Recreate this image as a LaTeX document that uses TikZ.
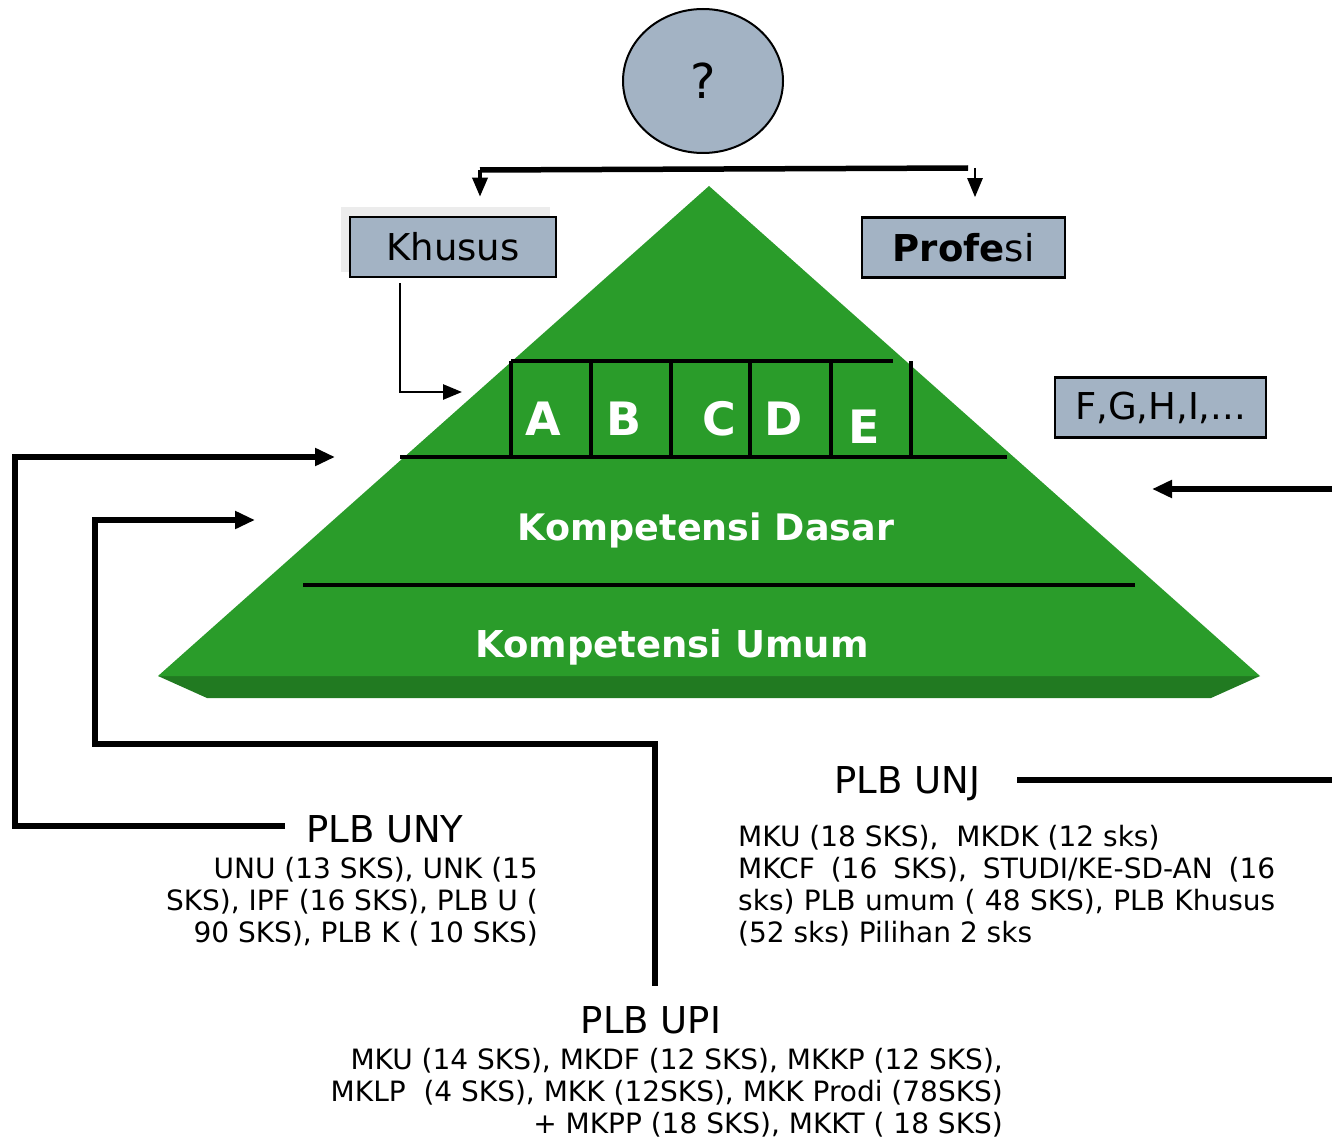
\documentclass[tikz,border=0pt]{standalone}
\usepackage{fontspec}
\setmainfont{DejaVu Sans}
\usepackage{tikz}
\usetikzlibrary{arrows.meta,calc,positioning,shapes.geometric}
\definecolor{BoxGrey}{HTML}{A3B3C4}
\definecolor{ShadowGrey}{HTML}{ECECEC}
\definecolor{PyrGreen}{HTML}{2A9C2A}
\definecolor{PyrDark}{HTML}{217A21}
\tikzset{
  labelbox/.style={
    draw=black,
    line width=2.6pt,
    fill=BoxGrey,
    minimum height=60pt,
    inner sep=0pt,
    font=\fontsize{37}{44}\selectfont
  },
  thickline/.style={line width=5.5pt},
  bigarrow/.style={thickline, -{Triangle[length=20pt,width=17pt]}},
  smallarrow/.style={line width=2.6pt, -{Triangle[length=19pt,width=15pt]}},
  gridline/.style={line width=3.2pt},
  cell/.style={text=white, inner sep=0pt, font=\fontsize{46}{50}\selectfont\bfseries},
  tier/.style={text=white, inner sep=0pt, font=\fontsize{36.5}{40}\selectfont\bfseries},
  schoolhead/.style={inner sep=0pt, font=\fontsize{37}{44}\selectfont},
  schooltext/.style={inner sep=0pt, font=\fontsize{28}{32}\selectfont}
}

\begin{document}
\begin{tikzpicture}[x=1pt,y=-1pt]
  \useasboundingbox (0,0) rectangle (1332,1142);

  % pyramid
  \coordinate (apex) at (709,186);
  \coordinate (baseL) at (158,676);
  \coordinate (baseR) at (1260,676);
  \fill[PyrDark] (baseL) -- (207,698) -- (1211,698) -- (baseR) -- cycle;
  \fill[PyrGreen] (apex) -- (baseL) -- (baseR) -- cycle;

  \draw[gridline] (511,361) -- (893,361);
  \foreach \x in {511,591,671,750,831,911}
    \draw[gridline] (\x,361) -- (\x,457);
  \draw[gridline] (400,457) -- (1007,457);
  \draw[gridline] (303,585) -- (1135,585);

  \foreach \l/\x/\y in {A/543/419, B/624/419, C/719/419, D/784/419, E/864/427}
    \node[cell] (cell\l) at (\x,\y) {\l};
  \node[tier,anchor=base] (dasar) at (706,540) {Kompetensi Dasar};
  \node[tier,anchor=base,font=\fontsize{37}{40}\selectfont\bfseries] (umum) at (672,657) {Kompetensi Umum};

  % top
  \node[ellipse,draw=black,line width=2pt,fill=BoxGrey,minimum width=160pt,minimum height=144pt,
    font=\fontsize{48}{52}\selectfont] (ask) at (703,81) {?};
  \fill[ShadowGrey] (341,207) rectangle (550,272);
  \node[labelbox,minimum width=206pt] (khusus) at (453,247) {Khusus};
  \node[labelbox,minimum width=203pt] (profesi) at (963.5,247.5) {{\bfseries Profe}si};
  \node[labelbox,minimum width=211pt] (others) at (1160.5,407.5) {F,G,H,I,...};

  \coordinate (kturn) at (480,170);
  \coordinate (pturn) at (968,168);
  \coordinate (pdrop) at (975,168);
  \draw[thickline] (kturn) -- (pturn);
  \draw[smallarrow,line width=3.5pt,shorten >=19pt] (kturn) -- (kturn |- khusus.north);
  \draw[smallarrow,shorten >=19pt] (pdrop) -- (pdrop |- profesi.north);

  \coordinate (abctip) at (462,392);
  \draw[smallarrow] ([xshift=-53pt,yshift=-5pt]khusus.south) |- (abctip);

  % schools
  \node[schoolhead,anchor=base west] (unyhead) at (306,842) {PLB UNY};
  \node[schooltext,anchor=north east,align=right] (unytext) at (538,857)
    {UNU (13 SKS), UNK (15\\SKS), IPF (16 SKS), PLB U (\\90 SKS), PLB K ( 10 SKS)};

  \node[schoolhead,anchor=base west] (unjhead) at (834,793) {PLB UNJ};
  \node[schooltext,anchor=north west,align=left] (unjtext) at (738,825)
    {MKU (18 SKS),\ \ MKDK (12 sks)\\
     \makebox[537pt][s]{MKCF (16 SKS), STUDI/KE-SD-AN (16}\\
     \makebox[537pt][s]{sks) PLB umum ( 48 SKS), PLB Khusus}\\
     (52 sks) Pilihan 2 sks};

  \node[schoolhead,anchor=base] (upihead) at (651,1033) {PLB UPI};
  \node[schooltext,anchor=north east,align=right] (upitext) at (1003,1048)
    {MKU (14 SKS), MKDF (12 SKS), MKKP (12 SKS),\\MKLP\ \ (4 SKS), MKK (12SKS), MKK Prodi (78SKS)\\+ MKPP (18 SKS), MKKT ( 18 SKS)};

  % connectors
  \coordinate (unytip) at (335,457);
  \coordinate (unyside) at (15,457);
  \draw[bigarrow] ([xshift=-21pt,yshift=3pt]unyhead.west) -| (unyside) -- (unytip);

  \coordinate (upicorner) at (95,744);
  \coordinate (upitip) at (255,520);
  \draw[bigarrow] ([xshift=4pt,yshift=20pt]upihead.north) |- (upicorner) |- (upitip);

  \coordinate (unjend) at (1332,776);
  \draw[thickline] ([xshift=37pt,yshift=3pt]unjhead.east) -- ([yshift=3pt]unjhead.east -| unjend);

  \coordinate (rtail) at (1332,489);
  \coordinate (rtip) at (1152,489);
  \draw[bigarrow] (rtail) -- (rtip);
\end{tikzpicture}
\end{document}
